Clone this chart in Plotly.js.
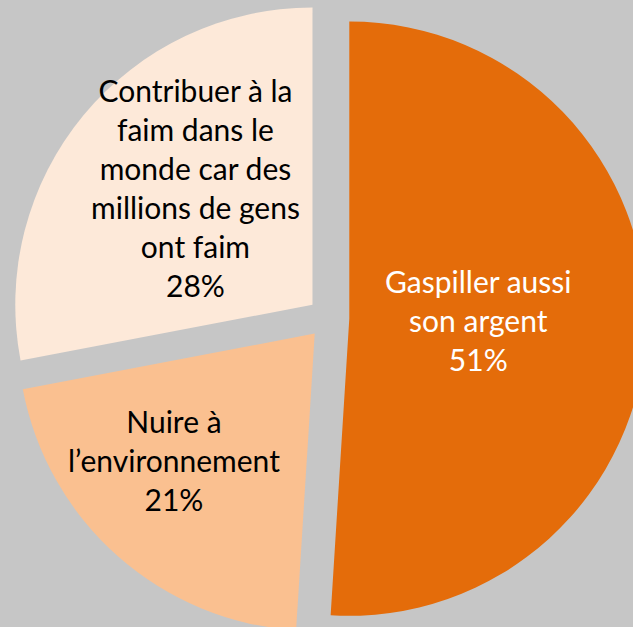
<!DOCTYPE html>
<html>
<head>
<meta charset="utf-8">
<script src="https://cdn.plot.ly/plotly-3.0.1.min.js"></script>
<style>
  html, body { margin: 0; padding: 0; overflow: hidden; background: #c6c6c6; }
  #chart { width: 657px; height: 636px; }
</style>
</head>
<body>
<div id="chart"></div>
<script>
// Categories and shares (percent)
const labels = [
    'Gaspiller aussi<br>son argent',
    'Nuire à<br>l’environnement',
    'Contribuer à la<br>faim dans le<br>monde car des<br>millions de gens<br>ont faim'
];
const shares = [51, 21, 28];
const sliceColors = ['#e46c0a', '#fac090', '#fde9d9'];
const textColors = ['#ffffff', '#000000', '#000000'];

const data = [{
    type: 'pie',
    values: shares,
    labels: labels,
    textinfo: 'none',
    sort: false,
    direction: 'clockwise',
    rotation: 0,
    pull: [0.07, 0.07, 0.07],
    marker: { colors: sliceColors, line: { width: 0 } },
    hoverinfo: 'none'
}];

// Plotly shrinks long inside text, so the slice labels are placed as annotations
const labelAnchors = [[0.7276, 0.497], [0.2648, 0.276], [0.2976, 0.705]];
const total = shares.reduce((a, b) => a + b, 0);
const annotations = labels.map((lab, i) => ({
    xref: 'paper',
    yref: 'paper',
    x: labelAnchors[i][0],
    y: labelAnchors[i][1],
    xanchor: 'center',
    yanchor: 'middle',
    showarrow: false,
    align: 'center',
    text: lab + '<br>' + Math.round(shares[i] / total * 100) + '%',
    font: { family: 'Lato, sans-serif', size: 30, color: textColors[i] }
}));

const layout = {
    width: 657,
    height: 636,
    margin: { t: 0, r: 0, l: 0, b: 0 },
    paper_bgcolor: '#c6c6c6',
    showlegend: false,
    annotations: annotations
};

Plotly.newPlot('chart', data, layout, { displayModeBar: false, staticPlot: true });
</script>
</body>
</html>
